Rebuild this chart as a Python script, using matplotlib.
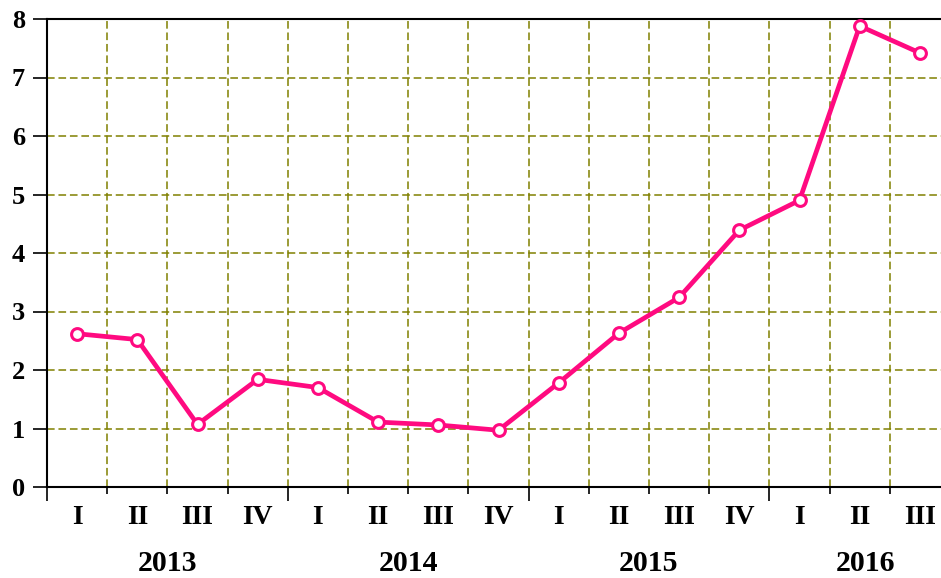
import numpy as np
import matplotlib.pyplot as plt
from matplotlib.transforms import blended_transform_factory

quarters = ['I', 'II', 'III', 'IV', 'I', 'II', 'III', 'IV',
            'I', 'II', 'III', 'IV', 'I', 'II', 'III']
years = ['2013', '2014', '2015', '2016']
year_pos = [2, 6, 10, 13.6]
values = [2.62, 2.52, 1.07, 1.84, 1.70, 1.11, 1.06, 0.97,
          1.78, 2.63, 3.24, 4.39, 4.90, 7.88, 7.42]


def main():
    plt.rcParams['font.family'] = ['Liberation Serif', 'DejaVu Serif']
    fig = plt.figure(figsize=(9.41, 5.78), dpi=100)
    W, H = 941, 578
    left, right, top, bottom = 47, 941, 19, 487
    ax = fig.add_axes([left / W, 1 - bottom / H, (right - left) / W, (bottom - top) / H])

    x = np.arange(len(values)) + 0.5
    ax.set_xlim(0, (right - left) / 60.2)
    ax.set_ylim(0, 8)

    # grid
    for yv in range(1, 8):
        ax.axhline(yv, color='#808000', lw=1.1, ls=(0, (5, 2.5)), zorder=1)
    for xv in range(1, 15):
        ax.axvline(xv, color='#808000', lw=1.1, ls=(0, (5, 2.5)), zorder=1)

    ax.plot(x, values, color='#FF0A80', lw=3.4, marker='o', ms=8.5,
            mfc='white', mec='#FF0A80', mew=2.2, zorder=3, clip_on=False)

    ax.spines['right'].set_visible(False)
    for s in ['left', 'bottom', 'top']:
        ax.spines[s].set_linewidth(1.5)

    ax.set_yticks(range(0, 9))
    ax.set_yticklabels([str(i) for i in range(0, 9)], fontsize=19, fontweight='bold')
    ax.tick_params(axis='y', length=10, width=1.2, pad=6)

    ax.set_xticks([0, 4, 8, 12])
    ax.set_xticklabels([])
    ax.set_xticks([1, 2, 3, 5, 6, 7, 9, 10, 11, 13, 14], minor=True)
    ax.tick_params(axis='x', which='major', length=10, width=1.2)
    ax.tick_params(axis='x', which='minor', length=5, width=1.2)

    trans = blended_transform_factory(ax.transData, ax.transAxes)
    for xi, q in zip(x, quarters):
        ax.text(xi, -0.065, q, transform=trans, ha='center', va='center',
                fontsize=20, fontweight='bold')
    for xp, yr in zip(year_pos, years):
        ax.text(xp, -0.163, yr, transform=trans, ha='center', va='center',
                fontsize=21.5, fontweight='bold')

    fig.savefig('out.png', dpi=100)


if __name__ == "__main__":
    main()
